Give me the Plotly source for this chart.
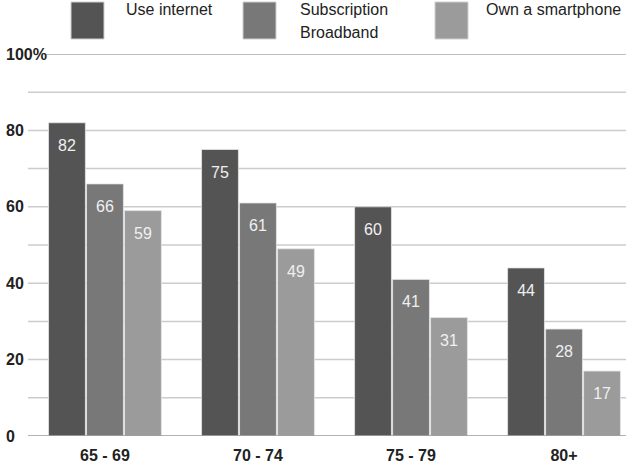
import plotly.graph_objects as go

categories = ["65 - 69", "70 - 74", "75 - 79", "80+"]
series_names = ["Use internet", "Subscription<br>Broadband", "Own a smartphone"]
use_internet = [82, 75, 60, 44]
broadband = [66, 61, 41, 28]
smartphone = [59, 49, 31, 17]
series_values = [use_internet, broadband, smartphone]
colors = ["#545454", "#787878", "#9b9b9b"]
y_ticks = [0, 20, 40, 60, 80, 100]
y_tick_text = ["0", "20", "40", "60", "80", "100%"]

W, H = 626, 463
ML, MR, MT, MB = 28, 0, 54, 27
PW, PH = W - ML - MR, H - MT - MB
FONT = "Liberation Sans"

def px_x(x):
    return (x - ML) / PW

def px_y(y):
    return (H - MB - y) / PH

fig = go.Figure()
for name, vals, col in zip(series_names, series_values, colors):
    fig.add_trace(go.Bar(
        x=categories, y=vals, name=name, marker_color=col,
        marker_line=dict(color="#e6e6e6", width=0.8),
        hoverinfo="skip", showlegend=False,
    ))
for name, vals in zip(series_names, series_values):
    fig.add_trace(go.Scatter(
        x=categories, y=vals, mode="markers+text", text=[str(v) for v in vals],
        textposition="bottom center",
        textfont=dict(color="#f0f0f0", size=16, family=FONT),
        marker=dict(size=24, opacity=0), hoverinfo="skip", showlegend=False,
    ))

shapes = []
annotations = []
# legend
leg_sq_x = [71, 243, 435]
leg_tx_x = [124, 298, 484]
for name, col, sx, tx in zip(series_names, colors, leg_sq_x, leg_tx_x):
    shapes.append(dict(type="rect", xref="paper", yref="paper",
                       x0=px_x(sx), x1=px_x(sx + 33), y0=px_y(2), y1=px_y(39),
                       fillcolor=col, line=dict(color="#cfcfcf", width=1), layer="above"))
    for i, line in enumerate(name.split("<br>")):
        annotations.append(dict(text=line, xref="paper", yref="paper", x=px_x(tx), y=px_y(-1 + 23 * i),
                                xanchor="left", yanchor="top", align="left", showarrow=False,
                                font=dict(size=16, color="#222", family=FONT)))
# y tick labels
for v, t in zip(y_ticks, y_tick_text):
    annotations.append(dict(text=t, xref="paper", yref="y", x=px_x(4), y=v,
                            xanchor="left", yanchor="middle", showarrow=False,
                            font=dict(size=16, color="#222", family=FONT, weight="bold")))
# gridlines
for v in range(10, 100, 10):
    shapes.append(dict(type="line", xref="paper", yref="y", x0=0, x1=1, y0=v, y1=v,
                       line=dict(color="#cccccc", width=1.5), layer="below"))
shapes.append(dict(type="line", xref="paper", yref="y", x0=px_x(44), x1=1, y0=100, y1=100,
                   line=dict(color="#aaaaaa", width=1.5), layer="below"))
shapes.append(dict(type="line", xref="paper", yref="y", x0=0, x1=1, y0=0, y1=0,
                   line=dict(color="#999999", width=1.5), layer="above"))

fig.update_layout(
    width=W, height=H,
    margin=dict(l=ML, r=MR, t=MT, b=MB),
    plot_bgcolor="white", paper_bgcolor="white",
    barmode="group", bargap=0.255, bargroupgap=0.03,
    scattermode="group", scattergap=0.255,
    shapes=shapes, annotations=annotations,
    font=dict(family=FONT, color="#222"),
)
fig.update_xaxes(range=[-0.503, 3.405], showgrid=False, showline=False, ticks="",
                 ticklabelstandoff=8,
                 tickfont=dict(size=16, color="#222", family=FONT, weight="bold"))
fig.update_yaxes(range=[0, 100], showgrid=False, showticklabels=False, zeroline=False,
                 showline=False)

fig.write_html("out.html")
